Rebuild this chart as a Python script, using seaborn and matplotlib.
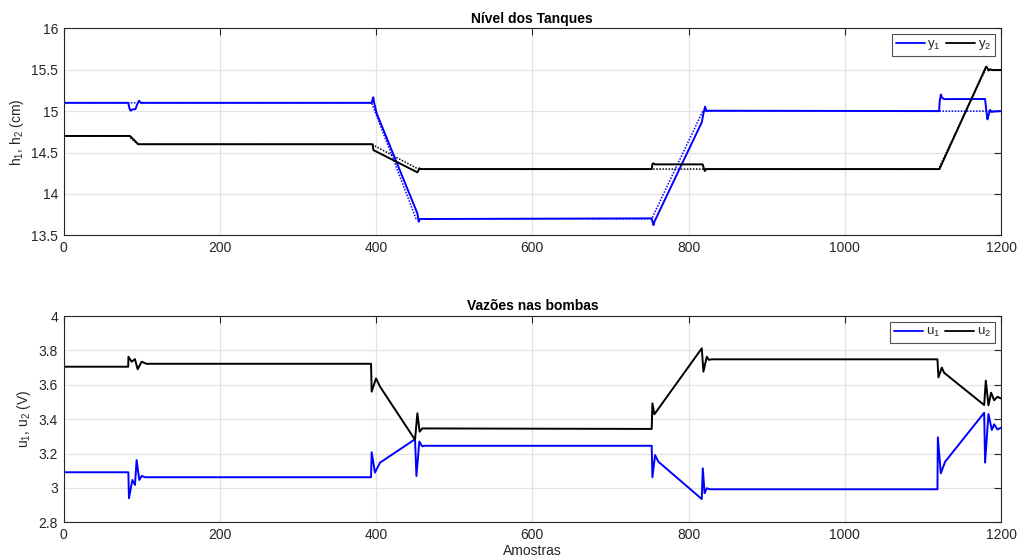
import numpy as np
import pandas as pd
import matplotlib
matplotlib.use("Agg")
import matplotlib.pyplot as plt
import seaborn as sns
from matplotlib.ticker import FuncFormatter, MultipleLocator
from matplotlib.lines import Line2D

# ---- tank levels: references (dotted) ----
k_r1 = [0, 394.3, 451.1, 752.8, 818.2, 1200]
r1 = [15.10, 15.10, 13.70, 13.70, 15.00, 15.00]
k_r2 = [0, 83, 95, 394.3, 454, 1120, 1180, 1200]
r2 = [14.70, 14.70, 14.60, 14.60, 14.30, 14.30, 15.50, 15.50]

# ---- tank levels: measured outputs ----
k_y1 = [0, 82.7, 84, 85.7, 88, 92, 94, 96.5, 99, 394.3, 395.5, 396.4, 397.5,
        400.7, 452.8, 454.5, 456, 752.8, 754, 755, 756.5, 816.9, 819, 821.1,
        823, 825, 1120.7, 1121.5, 1122.9, 1124.5, 1127, 1179.6, 1181, 1182.6,
        1184, 1186, 1188, 1191, 1200]
y1 = [15.10, 15.10, 15.04, 15.005, 15.02, 15.025, 15.08, 15.125, 15.10, 15.10,
      15.14, 15.167, 15.10, 14.973, 13.766, 13.664, 13.697, 13.705, 13.66,
      13.624, 13.67, 14.865, 14.97, 15.053, 15.00, 15.005, 15.00, 15.12, 15.20,
      15.16, 15.145, 15.146, 15.02, 14.90, 14.95, 15.013, 14.99, 14.995, 15.00]
k_y2 = [0, 84.9, 95.5, 394.3, 395.5, 396.5, 398, 452.8, 454, 455.3, 457,
        752.8, 753.7, 755, 756.5, 818, 819.5, 820.8, 822.5, 1121.2, 1180.9,
        1182.5, 1184, 1186, 1189, 1200]
y2 = [14.70, 14.70, 14.60, 14.60, 14.60, 14.53, 14.522, 14.261, 14.28, 14.31,
      14.30, 14.30, 14.36, 14.37, 14.357, 14.357, 14.31, 14.277, 14.30, 14.30,
      15.537, 15.52, 15.49, 15.505, 15.495, 15.496]

# ---- pump voltages ----
k_u1 = [0, 82.8, 83.6, 87.9, 91.3, 93.4, 96.8, 100, 104, 393.5, 394.3, 398.5,
        405, 449.8, 451.6, 455.3, 459, 462, 752.8, 753.7, 757.1, 761.4, 816.9,
        818.2, 820.5, 823.3, 827, 1118.6, 1119.1, 1122.9, 1128.4, 1178.4,
        1179.6, 1183.9, 1188.2, 1191.2, 1195.4, 1200]
u1 = [3.091, 3.091, 2.94, 3.046, 3.017, 3.162, 3.046, 3.07, 3.062, 3.062,
      3.207, 3.089, 3.147, 3.283, 3.069, 3.27, 3.242, 3.245, 3.245, 3.062,
      3.191, 3.152, 2.935, 3.114, 2.969, 2.998, 2.992, 2.992, 3.294, 3.085,
      3.152, 3.437, 3.147, 3.43, 3.337, 3.37, 3.34, 3.35]
k_u2 = [0, 82.6, 82.9, 87, 91.3, 94.7, 99.8, 106, 393.5, 394.3, 399.9, 405,
        449.8, 452.8, 455.7, 459, 752.8, 753.7, 756.2, 816.9, 819, 823.3, 826,
        829.7, 1118.6, 1119.9, 1124.2, 1127.1, 1178.4, 1180.5, 1183.9, 1187.3,
        1191.2, 1195.4, 1200]
u2 = [3.705, 3.705, 3.763, 3.734, 3.749, 3.69, 3.734, 3.722, 3.722, 3.56,
      3.637, 3.589, 3.28, 3.434, 3.327, 3.346, 3.343, 3.492, 3.428, 3.812,
      3.676, 3.763, 3.745, 3.748, 3.748, 3.643, 3.70, 3.67, 3.482, 3.624,
      3.48, 3.554, 3.51, 3.53, 3.52]

x_ticks = [0, 200, 400, 600, 800, 1000, 1200]

sns.set_style("white")
plt.rcParams["font.family"] = ["Liberation Sans", "DejaVu Sans"]
plt.rcParams["mathtext.default"] = "regular"

DARK = "#262626"
GRID = "#e3e3e3"
BLUE = "#0000ff"
BLACK = "#000000"

fig = plt.figure(figsize=(10.17, 5.59), dpi=100)
ax1 = fig.add_axes([0.0626, 0.579, 0.9217, 0.3704])
ax2 = fig.add_axes([0.0626, 0.0657, 0.9217, 0.3690])


def series(k, v):
    return pd.DataFrame({"k": k, "v": v})


def style_axes(ax, ylim, ystep):
    ax.set_xlim(0, 1200)
    ax.set_ylim(*ylim)
    ax.set_xticks(x_ticks)
    ax.yaxis.set_major_locator(MultipleLocator(ystep))
    ax.yaxis.set_major_formatter(FuncFormatter(lambda v, p: f"{v:g}"))
    ax.grid(True, color=GRID, lw=0.9)
    ax.set_axisbelow(True)
    for s in ax.spines.values():
        s.set_color(DARK)
        s.set_linewidth(0.8)
        s.set_visible(True)
    ax.tick_params(direction="in", length=5, width=0.8, colors=DARK,
                   labelsize=10, top=True, right=True, pad=4)
    ax.set_xlabel("")


def add_legend(ax, labels):
    handles = [Line2D([], [], color=BLUE, lw=1.3),
               Line2D([], [], color=BLACK, lw=1.3)]
    leg = ax.legend(handles, labels, loc="upper right", ncol=2,
                    fontsize=9.5, frameon=True, fancybox=False,
                    handlelength=2.2, handletextpad=0.2, columnspacing=0.4,
                    borderpad=0.3, borderaxespad=0.45, labelcolor=DARK)
    leg.get_frame().set_edgecolor(DARK)
    leg.get_frame().set_linewidth(0.8)


# Tank levels
sns.lineplot(data=series(k_r1, r1), x="k", y="v", ax=ax1, color=BLUE,
             lw=1.1, ls=(0, (1, 1)), estimator=None, sort=False)
sns.lineplot(data=series(k_r2, r2), x="k", y="v", ax=ax1, color=BLACK,
             lw=1.1, ls=(0, (1, 1)), estimator=None, sort=False)
sns.lineplot(data=series(k_y1, y1), x="k", y="v", ax=ax1, color=BLUE,
             lw=1.4, estimator=None, sort=False)
sns.lineplot(data=series(k_y2, y2), x="k", y="v", ax=ax1, color=BLACK,
             lw=1.4, estimator=None, sort=False)
style_axes(ax1, (13.5, 16), 0.5)
ax1.set_ylabel("h$_1$, h$_2$ (cm)", fontsize=10, color=DARK, labelpad=4)
ax1.set_title("Nível dos Tanques", fontsize=10, fontweight="bold",
              color=BLACK, pad=4)
add_legend(ax1, ["y$_1$", "y$_2$"])

# Pump voltages
sns.lineplot(data=series(k_u1, u1), x="k", y="v", ax=ax2, color=BLUE,
             lw=1.4, estimator=None, sort=False)
sns.lineplot(data=series(k_u2, u2), x="k", y="v", ax=ax2, color=BLACK,
             lw=1.4, estimator=None, sort=False)
style_axes(ax2, (2.8, 4.0), 0.2)
ax2.set_ylabel("u$_1$, u$_2$ (V)", fontsize=10, color=DARK, labelpad=4)
ax2.set_xlabel("Amostras", fontsize=10, color=DARK, labelpad=1.5)
ax2.set_title("Vazões nas bombas", fontsize=10, fontweight="bold",
              color=BLACK, pad=4)
add_legend(ax2, ["u$_1$", "u$_2$"])

fig.savefig("out.png", dpi=100)
